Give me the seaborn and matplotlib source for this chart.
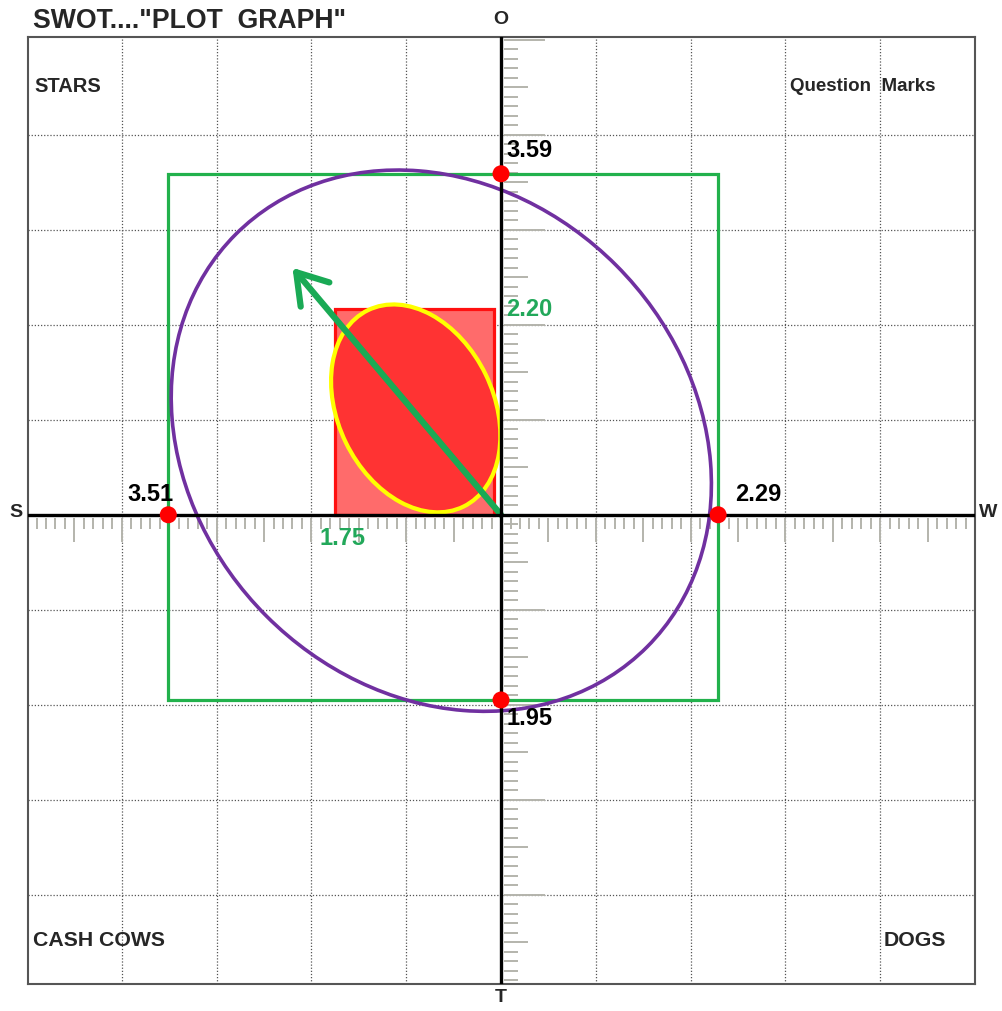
import numpy as np
import seaborn as sns
import matplotlib.pyplot as plt
from matplotlib.patches import Rectangle, Ellipse

# SWOT scores
swot_dirs = ["S", "W", "O", "T"]
swot_vals = [3.51, 2.29, 3.59, 1.95]
point_x = [-3.51, 2.29, 0.0, 0.0]
point_y = [0.0, 0.0, 3.59, -1.95]
point_labels = ["3.51", "2.29", "3.59", "1.95"]

# inner (resultant) box and ellipses
inner_x = [-1.75, -0.07]
inner_y = [0.0, 2.17]
inner_labels = ["1.75", "2.20"]
yellow_ell = {"center": (-0.90, 1.12), "w": 2.30, "h": 1.64, "angle": 116}
purple_ell = {"center": (-0.63, 0.78), "w": 6.14, "h": 5.22, "angle": 135}
arrow_tip = (-2.2, 2.6)

quadrants = ["STARS", "Question  Marks", "CASH COWS", "DOGS"]

sns.set_style("white")
plt.rcParams['font.family'] = ['Liberation Sans', 'DejaVu Sans']

fig = plt.figure(figsize=(10.03, 10.12), dpi=100)
ax = fig.add_axes([28/1003, 27/1012, 947/1003, 947/1012])
ax.set_xlim(-4.99, 5.0)
ax.set_ylim(-4.94, 5.03)
ax.set_xticks([])
ax.set_yticks([])
for sp in ax.spines.values():
    sp.set_color("#555555")
    sp.set_linewidth(1.5)

# dotted grid
for g in range(-4, 5):
    if g == 0:
        continue
    ax.axvline(g, color="#555555", lw=0.9, ls=(0, (1, 1.5)), zorder=0)
    ax.axhline(g, color="#555555", lw=0.9, ls=(0, (1, 1.5)), zorder=0)

# ruler ticks along axes
tk = np.round(np.arange(-5, 5.001, 0.1), 1)
for t in tk:
    half = abs(t * 2 - round(t * 2)) < 1e-6
    full = abs(t - round(t)) < 1e-6
    hl = 0.29 if half else 0.15
    ax.plot([t, t], [-0.03, -hl], color="#b4b4ac", lw=1.4, zorder=1, solid_capstyle="butt")
    vl = 0.46 if full else (0.28 if half else 0.18)
    ax.plot([0.03, vl], [t, t], color="#b4b4ac", lw=1.4, zorder=1, solid_capstyle="butt")

# green SWOT box
S, W, O, T = swot_vals
ax.add_patch(Rectangle((-S, -T), S + W, O + T, fill=False, ec="#22b14c", lw=2.3, zorder=2))

# red inner box
ax.add_patch(Rectangle((inner_x[0], inner_y[0]), inner_x[1] - inner_x[0], inner_y[1] - inner_y[0],
                       fc="#ff6b6b", ec="#ff1010", lw=2.3, zorder=3))
ax.add_patch(Ellipse(yellow_ell["center"], yellow_ell["w"], yellow_ell["h"], angle=yellow_ell["angle"],
                     fc="#ff3333", ec="#ffff00", lw=3.0, zorder=4))

# arrow
ax.annotate("", xy=arrow_tip, xytext=(0, 0),
            arrowprops=dict(arrowstyle="->,head_length=0.7,head_width=0.45", color="#1aaa55",
                            lw=4.5, mutation_scale=30, capstyle="round", joinstyle="round",
                            shrinkA=0, shrinkB=0), zorder=5)

# purple ellipse
ax.add_patch(Ellipse(purple_ell["center"], purple_ell["w"], purple_ell["h"], angle=purple_ell["angle"],
                     fill=False, ec="#7030a0", lw=2.6, zorder=6))

# main axes
ax.axhline(0, color="black", lw=2.4, zorder=7)
ax.axvline(0, color="black", lw=2.4, zorder=7)

# red points
sns.scatterplot(x=point_x, y=point_y, color="#ff0000", s=150, edgecolor="none", zorder=8, ax=ax)

fb = dict(fontweight="bold", fontsize=17)
offs = [(4, 7, "right", "bottom"), (12, 7, "left", "bottom"), (4, 9, "left", "bottom"), (4, -4, "left", "top")]
for px, py, lab, (dx, dy, ha, va) in zip(point_x, point_y, point_labels, offs):
    ax.annotate(lab, (px, py), xytext=(dx, dy), textcoords="offset points", ha=ha, va=va,
                color="black", zorder=9, **fb)

ax.annotate(inner_labels[0], (inner_x[0], 0), xytext=(5, -8), textcoords="offset points",
            ha="center", va="top", color="#22a85a", zorder=9, **fb)
ax.annotate(inner_labels[1], (0, inner_y[1]), xytext=(4, 0), textcoords="offset points",
            ha="left", va="center", color="#22a85a", zorder=9, **fb)

# direction letters
ax.text(0, 5.22, swot_dirs[2], ha="center", va="center", fontsize=14, fontweight="bold", clip_on=False)
ax.text(0, -5.07, swot_dirs[3], ha="center", va="center", fontsize=14, fontweight="bold", clip_on=False)
ax.text(-5.12, 0.03, swot_dirs[0], ha="center", va="center", fontsize=14, fontweight="bold", clip_on=False)
ax.text(5.14, 0.03, swot_dirs[1], ha="center", va="center", fontsize=14, fontweight="bold", clip_on=False)

# quadrant names
ax.text(-4.92, 4.52, quadrants[0], ha="left", va="center", fontsize=14.5, fontweight="bold")
ax.text(3.05, 4.52, quadrants[1], ha="left", va="center", fontsize=13.5, fontweight="bold")
ax.text(-4.94, -4.47, quadrants[2], ha="left", va="center", fontsize=15.3, fontweight="bold")
ax.text(4.04, -4.47, quadrants[3], ha="left", va="center", fontsize=15.3, fontweight="bold")

fig.text(33/1003, 1 - 21/1012, 'SWOT....\"PLOT  GRAPH\"', ha="left", va="center",
         fontsize=19.2, fontweight="bold")

fig.savefig("out.png", dpi=100)
